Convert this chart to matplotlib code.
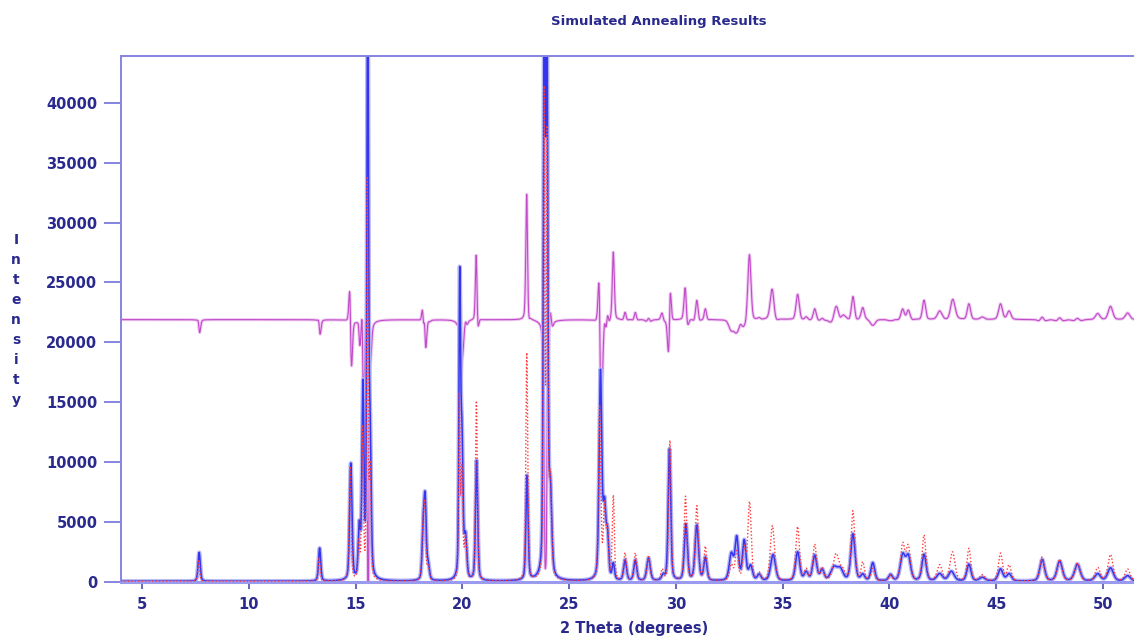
import numpy as np
import matplotlib.pyplot as plt

obs_pos = [7.68, 13.32, 14.78, 15.18, 15.35, 15.57, 15.68, 18.17, 18.26, 18.40,
           19.88, 19.98, 20.15, 20.67, 23.03, 23.84, 23.96, 24.12, 26.47, 26.66,
           26.80, 27.07, 27.62, 28.10, 28.72, 29.40, 29.70, 30.47, 30.98, 31.38,
           32.60, 32.85, 33.20, 33.50, 33.90, 34.55, 35.70, 36.10, 36.50, 36.85,
           37.40, 37.70, 38.29, 38.75, 39.22, 40.05, 40.62, 40.88, 41.62, 42.35,
           42.90, 43.72, 44.35, 45.20, 45.60, 47.15, 47.97, 48.80, 49.75, 50.35,
           51.15]
obs_height = [2400, 2750, 9700, 4200, 15800, 50000, 11500, 3900, 6300, 1200,
              24000, 11500, 3400, 10000, 8700, 50000, 46000, 6800, 17300, 5800,
              3400, 1300, 1700, 1700, 1900, 400, 11000, 4700, 4600, 1900,
              2200, 3500, 3300, 1200, 500, 2200, 2400, 700, 2100, 900,
              1100, 900, 3900, 500, 1500, 500, 2100, 2000, 2200, 600,
              800, 1400, 300, 1000, 600, 1800, 1650, 1400, 600, 1100,
              450]
obs_fwhm = [0.12, 0.12, 0.13, 0.12, 0.11, 0.09, 0.12, 0.12, 0.12, 0.14,
            0.09, 0.12, 0.14, 0.12, 0.12, 0.10, 0.10, 0.16, 0.15, 0.15,
            0.13, 0.13, 0.16, 0.16, 0.19, 0.16, 0.14, 0.17, 0.19, 0.17,
            0.23, 0.19, 0.19, 0.21, 0.21, 0.26, 0.23, 0.21, 0.23, 0.21,
            0.36, 0.31, 0.23, 0.21, 0.21, 0.21, 0.26, 0.26, 0.23, 0.31,
            0.31, 0.23, 0.31, 0.26, 0.26, 0.26, 0.29, 0.31, 0.31, 0.31,
            0.31]

# calculated peaks (same reflections, fitted positions/heights)
calc_pos = [7.66, 13.30, 14.75, 15.16, 15.33, 15.55, 15.68, 18.15, 18.24, 18.40,
            19.86, 19.98, 20.15, 20.66, 23.02, 23.83, 23.97, 24.12, 26.43, 26.66,
            26.80, 27.07, 27.62, 28.10, 28.72, 29.36, 29.72, 30.45, 30.98, 31.38,
            32.60, 32.85, 33.20, 33.45, 33.90, 34.52, 35.70, 36.10, 36.50, 36.85,
            37.50, 37.80, 38.29, 38.75, 39.22, 40.05, 40.62, 40.88, 41.62, 42.35,
            42.95, 43.72, 44.35, 45.20, 45.60, 47.15, 47.97, 48.80, 49.75, 50.35,
            51.15]
calc_height = [1700, 2000, 9500, 3000, 12500, 33000, 9000, 4000, 6000, 1200,
               15000, 9000, 3500, 15000, 19000, 40000, 36000, 8000, 14500, 6000,
               4000, 7000, 2300, 2300, 2000, 900, 11700, 7000, 6200, 2800,
               1300, 2500, 2600, 6500, 600, 4600, 4500, 900, 3000, 1000,
               2200, 800, 5800, 1500, 1000, 400, 3000, 2800, 3800, 1300,
               2400, 2700, 500, 2300, 1300, 2000, 1800, 1500, 1100, 2200,
               1000]

diff_offset = 21900
background = 60


def pattern(x, pos, height, fwhm, eta=0.35):
    y = np.zeros_like(x)
    for p, h, w in zip(pos, height, fwhm):
        g = np.exp(-4 * np.log(2) * ((x - p) / w) ** 2)
        l = 1 / (1 + 4 * ((x - p) / w) ** 2)
        y += h * (eta * l + (1 - eta) * g)
    return y


tt = np.arange(4.0, 51.6, 0.01)
obs = pattern(tt, obs_pos, obs_height, obs_fwhm) + background
calc = pattern(tt, calc_pos, calc_height, np.array(obs_fwhm) * 0.88) + background
diff = calc - obs + diff_offset

navy = '#2a2a8e'
axcol = '#8585e0'

fig = plt.figure(figsize=(11.34, 6.37), dpi=100)
ax = fig.add_axes([121 / 1134, 1 - 582 / 637, 1 - 121 / 1134, (582 - 56) / 637])

ax.plot(tt, diff, color='#efc6f2', lw=2.2, zorder=1)
ax.plot(tt, diff, color='#c04cc8', lw=0.8, zorder=1)
ax.plot(tt, obs, color='#b4b4f6', lw=3.0, zorder=2)
ax.plot(tt, obs, color='#3535ee', lw=1.1, zorder=2)
ax.plot(tt, calc, color='#ff3a3a', lw=1.0, linestyle=(0, (1, 1.5)), zorder=3)

ax.set_xlim(4.02, 51.45)
ax.set_ylim(0, 43900)
ax.set_xticks(range(5, 51, 5))
ax.set_yticks(range(0, 40001, 5000))

for s in ['left', 'top']:
    ax.spines[s].set_color(axcol)
    ax.spines[s].set_linewidth(1.4)
ax.spines['bottom'].set_color('#9a9aee')
ax.spines['bottom'].set_linewidth(2.2)
ax.spines['right'].set_visible(False)

ax.tick_params(axis='y', direction='out', length=12, width=1.4, color=axcol,
               pad=5, labelsize=10.5, labelcolor=navy)
ax.tick_params(axis='x', direction='out', length=5, width=1.2, color='#5050b0',
               pad=6, labelsize=10.5, labelcolor=navy)
for lab in ax.get_xticklabels() + ax.get_yticklabels():
    lab.set_fontweight('bold')

fig.text(659 / 1134, 1 - 21 / 637, 'Simulated Annealing Results', ha='center',
         va='center', fontsize=9.5, fontweight='bold', color=navy)
fig.text(634 / 1134, 1 - 628 / 637, '2 Theta (degrees)', ha='center',
         va='center', fontsize=10.5, fontweight='bold', color=navy)
fig.text(16 / 1134, 1 - 320 / 637, '\n'.join('Intensity'), ha='center',
         va='center', fontsize=10, fontweight='bold', color=navy,
         linespacing=1.55)

fig.savefig('out.png', dpi=100)
